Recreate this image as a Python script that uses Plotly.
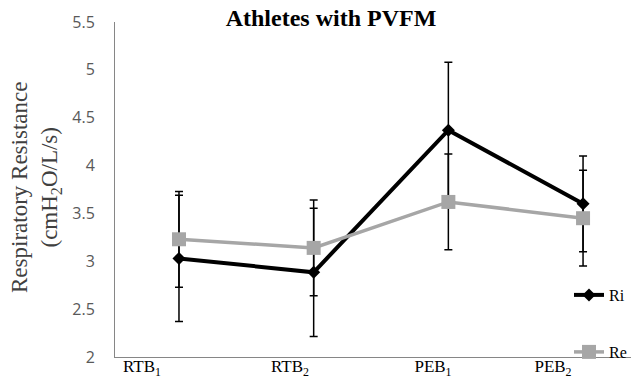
import plotly.graph_objects as go

# Data
x_idx = [0, 1, 2, 3]
ri_vals = [3.03, 2.885, 4.37, 3.60]
ri_err = [0.66, 0.67, 0.71, 0.50]
re_vals = [3.23, 3.14, 3.62, 3.45]
re_err = [0.50, 0.50, 0.50, 0.50]
tick_labels = ["RTB<sub>1</sub>", "RTB<sub>2</sub>", "PEB<sub>1</sub>", "PEB<sub>2</sub>"]
tick_pos = [-0.275, 0.824, 1.886, 2.777]

serif = "Liberation Serif, Times New Roman, serif"

fig = go.Figure()
fig.add_trace(go.Scatter(
    x=x_idx, y=ri_vals, name="Ri", mode="lines+markers",
    line=dict(color="black", width=4),
    marker=dict(symbol="diamond", size=10, color="black"),
    error_y=dict(type="data", array=ri_err, color="black", thickness=1.5, width=4),
    legend="legend",
))
fig.add_trace(go.Scatter(
    x=x_idx, y=re_vals, name="Re", mode="lines+markers",
    line=dict(color="#A6A6A6", width=3.5),
    marker=dict(symbol="square", size=14, color="#A6A6A6"),
    error_y=dict(type="data", array=re_err, color="black", thickness=1.5, width=4),
    legend="legend2",
))

W, H = 631, 381
L, R, T, B = 115, 0, 22, 24
pw, ph = W - L - R, H - T - B

def px_x(p):
    return (p - L) / pw

def px_y(p):
    return (H - B - p) / ph

legend_font = dict(family=serif, size=16, color="black")
fig.update_layout(
    width=W, height=H,
    margin=dict(l=L, r=R, t=T, b=B, autoexpand=False),
    paper_bgcolor="white", plot_bgcolor="white",
    showlegend=True,
    title=dict(text="<b>Athletes with PVFM</b>", x=331/W, xanchor="center",
               y=1 - 18/H, yanchor="middle", yref="container",
               font=dict(family=serif, size=24, color="black")),
    legend=dict(x=px_x(569), xanchor="left", y=px_y(295), yanchor="middle",
                font=legend_font, bgcolor="rgba(0,0,0,0)", itemwidth=30),
    legend2=dict(x=px_x(569), xanchor="left", y=px_y(352), yanchor="middle",
                 font=legend_font, bgcolor="rgba(0,0,0,0)", itemwidth=30),
    xaxis=dict(range=[-0.475, 3.356], showgrid=False, zeroline=False,
               showline=True, linecolor="#868686", linewidth=1, automargin=False,
               tickmode="array", tickvals=tick_pos, ticktext=tick_labels,
               ticks="", ticklabelstandoff=-6,
               tickfont=dict(family=serif, size=17, color="black")),
    yaxis=dict(range=[2, 5.5], showgrid=False, zeroline=False,
               showline=True, linecolor="#868686", linewidth=1, automargin=False,
               tickmode="array", tickvals=[2, 2.5, 3, 3.5, 4, 4.5, 5, 5.5],
               ticktext=["2", "2.5", "3", "3.5", "4", "4.5", "5", "5.5"],
               ticks="", ticklabelstandoff=16,
               tickfont=dict(family="Open Sans, sans-serif", size=16, color="#595959")),
    annotations=[dict(
        text="Respiratory Resistance<br>(cmH<sub>2</sub>O/L/s)",
        xref="paper", yref="paper", x=px_x(36), y=px_y(188),
        xanchor="center", yanchor="middle", textangle=-90, showarrow=False,
        font=dict(family=serif, size=23, color="#404040"))],
)

fig.write_html("out.html", config={"displayModeBar": False},
               post_script="document.body.style.margin='0';document.body.style.overflow='hidden';")
